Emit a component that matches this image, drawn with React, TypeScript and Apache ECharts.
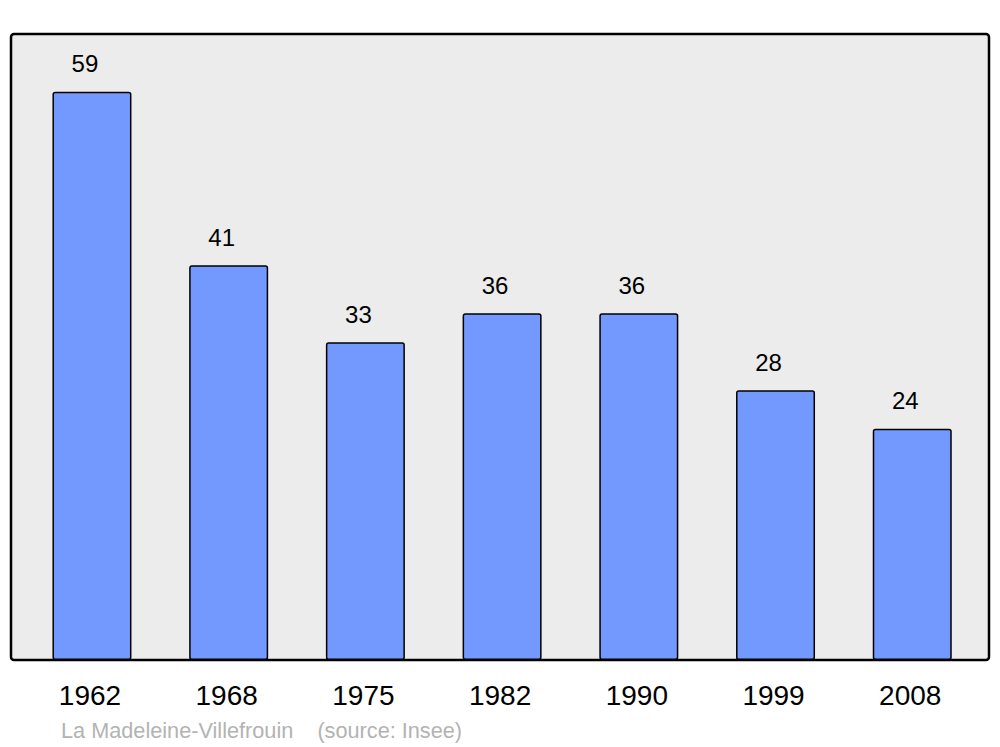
import React, { useEffect, useRef } from "react";
import * as echarts from "echarts";

const years = ["1962", "1968", "1975", "1982", "1990", "1999", "2008"];
const population = [59, 41, 33, 36, 36, 28, 24];
const footerText = "La Madeleine-Villefrouin    (source: Insee)";

export default function App() {
  const ref = useRef<HTMLDivElement>(null);
  useEffect(() => {
    if (!ref.current) return;
    const chart = echarts.init(ref.current, null, { renderer: "svg" });
    const font = "'Liberation Sans', Arial, sans-serif";
    chart.setOption({
      animation: false,
      backgroundColor: "#ffffff",
      grid: { left: 23.6, right: 19.4, top: 34, bottom: 87, containLabel: false },
      graphic: [
        {
          type: "rect",
          z: -10,
          shape: { x: 11, y: 34, width: 978, height: 626, r: 3 },
          style: { fill: "#ececec", stroke: "#000000", lineWidth: 2.5 },
        },
        {
          type: "text",
          left: 61,
          top: 719,
          style: { text: footerText, fill: "#b3b3b3", fontSize: 21.7, fontFamily: font },
        },
      ],
      xAxis: {
        type: "category",
        data: years,
        axisLine: { show: false },
        axisTick: { show: false },
        axisLabel: { color: "#000", fontSize: 28, fontFamily: font, margin: 21, padding: [0, 4, 0, 0] },
      },
      yAxis: {
        type: "value",
        min: 0,
        max: 65,
        show: false,
        splitLine: { show: false },
      },
      series: [
        {
          type: "bar",
          data: population,
          barWidth: 79,
          itemStyle: { color: "#7399ff", borderColor: "#000", borderWidth: 1.5, borderRadius: 2 },
          label: {
            show: true,
            position: "top",
            distance: 16,
            offset: [-7, 0],
            color: "#000",
            fontSize: 24,
            fontFamily: font,
          },
        },
      ],
    });
    return () => chart.dispose();
  }, []);
  return <div ref={ref} style={{ position: "fixed", left: 0, top: 0, width: 1000, height: 747 }} />;
}
